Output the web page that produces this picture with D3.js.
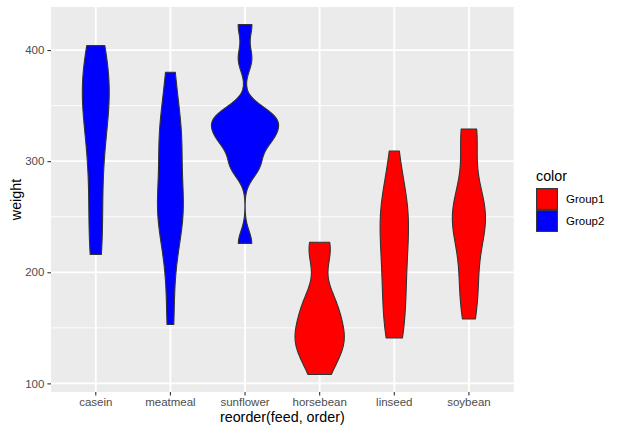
<!DOCTYPE html>
<html>
<head>
<meta charset="utf-8">
<script src="https://cdn.jsdelivr.net/npm/d3@7"></script>
<style>
  html, body { margin: 0; padding: 0; background: #fff; }
  svg { display: block; font-family: "Liberation Sans", Arial, Helvetica, sans-serif; }
</style>
</head>
<body>
<svg id="chart" width="620" height="434"></svg>
<script>
// ---- data (chickwts weights by feed) ----
const categories = ["casein", "meatmeal", "sunflower", "horsebean", "linseed", "soybean"];
const groups = ["Group2", "Group2", "Group2", "Group1", "Group1", "Group1"];
const casein = [368, 390, 379, 260, 404, 318, 352, 359, 216, 222, 283, 332];
const meatmeal = [325, 257, 303, 315, 380, 153, 263, 242, 206, 344, 258];
const sunflower = [423, 340, 392, 339, 341, 226, 320, 295, 334, 322, 297, 318];
const horsebean = [179, 160, 136, 227, 217, 168, 108, 124, 143, 140];
const linseed = [309, 229, 181, 141, 260, 203, 148, 169, 213, 257, 244, 271];
const soybean = [243, 230, 248, 327, 329, 250, 193, 271, 316, 267, 199, 171, 158, 248];
const yTicks = [100, 200, 300, 400];
const yMinorTicks = [150, 250, 350];
const legendLabels = ["Group1", "Group2"];
const groupColors = { Group1: "#FF0000", Group2: "#0000FF" };

const series = [casein, meatmeal, sunflower, horsebean, linseed, soybean];

// ---- layout ----
const svg = d3.select("#chart");
const P = { left: 51, right: 513.7, top: 7, bottom: 392 };

// kernel density like R density() with bw.nrd0, trimmed to data range
function bwNrd0(x) {
  const s = d3.deviation(x);
  const sorted = x.slice().sort(d3.ascending);
  const iqr = d3.quantileSorted(sorted, 0.75) - d3.quantileSorted(sorted, 0.25);
  let lo = Math.min(s, iqr / 1.34);
  if (!(lo > 0)) lo = s || Math.abs(x[0]) || 1;
  return 0.9 * lo * Math.pow(x.length, -0.2);
}
function kde(x, n) {
  const bw = bwNrd0(x);
  const lo = d3.min(x), hi = d3.max(x);
  const out = [];
  for (let i = 0; i < n; i++) {
    const y = lo + (hi - lo) * i / (n - 1);
    let s = 0;
    for (const v of x) { const z = (y - v) / bw; s += Math.exp(-0.5 * z * z); }
    out.push({ y, d: s / (x.length * bw * Math.sqrt(2 * Math.PI)) });
  }
  return out;
}
const dens = series.map(s => kde(s, 512));
const maxD = d3.max(dens, ds => d3.max(ds, p => p.d));

const allVals = series.flat();
const yMin = d3.min(allVals), yMax = d3.max(allVals);
const pad = (yMax - yMin) * 0.05;
const y = d3.scaleLinear().domain([yMin - pad, yMax + pad]).range([P.bottom, P.top]);

// discrete x: positions 1..6 with 0.6 additive expansion
const xc = d3.scaleLinear().domain([0.4, categories.length + 0.6]).range([P.left, P.right]);
const x = d3.scaleBand().domain(categories).range([xc(0.5), xc(categories.length + 0.5)]);
const unit = xc(1) - xc(0);
const cx = c => x(c) + x.bandwidth() / 2;

// panel
svg.append("rect").attr("x", P.left).attr("y", P.top)
  .attr("width", P.right - P.left).attr("height", P.bottom - P.top).attr("fill", "#EBEBEB");

const grid = svg.append("g");
grid.selectAll(".ymin").data(yMinorTicks).join("line")
  .attr("x1", P.left).attr("x2", P.right).attr("y1", d => y(d)).attr("y2", d => y(d))
  .attr("stroke", "#fff").attr("stroke-width", 0.9);
grid.selectAll(".ymaj").data(yTicks).join("line")
  .attr("x1", P.left).attr("x2", P.right).attr("y1", d => y(d)).attr("y2", d => y(d))
  .attr("stroke", "#fff").attr("stroke-width", 1.8);
grid.selectAll(".xmaj").data(categories).join("line")
  .attr("x1", d => cx(d)).attr("x2", d => cx(d)).attr("y1", P.top).attr("y2", P.bottom)
  .attr("stroke", "#fff").attr("stroke-width", 1.8);

// violins
const halfW = 0.9 / 2 * unit;
categories.forEach((c, i) => {
  const ds = dens[i];
  const right = ds.map(p => [cx(c) + p.d / maxD * halfW, y(p.y)]);
  const left = ds.slice().reverse().map(p => [cx(c) - p.d / maxD * halfW, y(p.y)]);
  const pts = right.concat(left);
  svg.append("path")
    .attr("d", d3.line()(pts) + "Z")
    .attr("fill", groupColors[groups[i]])
    .attr("stroke", "#333333").attr("stroke-width", 1.1)
    .attr("stroke-linejoin", "round");
});

// axes
const yAxis = svg.append("g").attr("transform", `translate(${P.left},0)`)
  .call(d3.axisLeft(y).tickValues(yTicks).tickSize(3.6).tickPadding(3));
const xAxis = svg.append("g").attr("transform", `translate(0,${P.bottom})`)
  .call(d3.axisBottom(x).tickSize(3.6).tickPadding(2.5));
[yAxis, xAxis].forEach(a => {
  a.select(".domain").remove();
  a.selectAll(".tick line").attr("stroke", "#333333").attr("stroke-width", 1.1);
  a.selectAll(".tick text").attr("fill", "#4D4D4D")
    .style("font-size", "11.5px").style("font-family", "Liberation Sans, Arial, sans-serif");
});

// axis titles
svg.append("text").attr("x", (P.left + P.right) / 2).attr("y", 422)
  .attr("text-anchor", "middle").attr("fill", "#000").style("font-size", "14.3px")
  .text("reorder(feed, order)");
svg.append("text").attr("transform", `translate(20.5,${(P.top + P.bottom) / 2}) rotate(-90)`)
  .attr("text-anchor", "middle").attr("fill", "#000").style("font-size", "14.3px")
  .text("weight");

// legend
const lg = svg.append("g").attr("transform", "translate(536,0)");
lg.append("text").attr("x", 0).attr("y", 181).style("font-size", "14.3px").attr("fill", "#000").text("color");
legendLabels.forEach((g, i) => {
  const top = 188 + i * 22;
  lg.append("rect").attr("x", 0).attr("y", top).attr("width", 22).attr("height", 22)
    .attr("fill", "#F2F2F2");
  lg.append("rect").attr("x", 0.6).attr("y", top + 0.6).attr("width", 20.8).attr("height", 20.8)
    .attr("fill", groupColors[g]).attr("stroke", "#333333").attr("stroke-width", 1.1);
  lg.append("text").attr("x", 30).attr("y", top + 11).attr("dy", "0.35em")
    .style("font-size", "11.5px").attr("fill", "#000").text(g);
});
</script>
</body>
</html>
